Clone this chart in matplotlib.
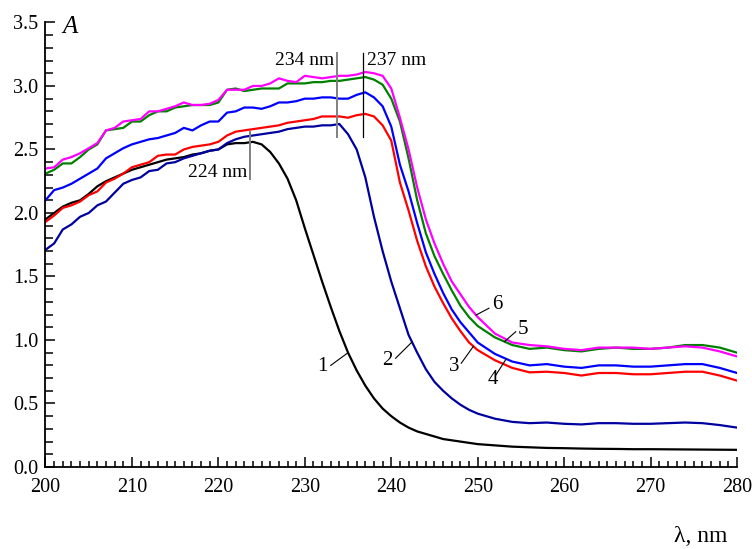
import numpy as np
import matplotlib
matplotlib.use("Agg")
import matplotlib.pyplot as plt
from matplotlib.ticker import MultipleLocator

plt.rcParams["font.family"] = ["Liberation Serif", "DejaVu Serif"]

# wavelength grid, nm
wl = list(range(200, 251)) + list(range(252, 281, 2))

# absorbance spectra 1..6
a1 = [1.95, 2.00, 2.05, 2.08, 2.10, 2.15, 2.21, 2.25, 2.28, 2.31,
      2.34, 2.36, 2.38, 2.40, 2.42, 2.43, 2.44, 2.46, 2.47, 2.49,
      2.50, 2.54, 2.55, 2.55, 2.56, 2.54, 2.48, 2.39, 2.27, 2.10,
      1.88, 1.67, 1.46, 1.26, 1.07, 0.90, 0.76, 0.64, 0.54, 0.46,
      0.40, 0.35, 0.31, 0.28, 0.26, 0.24, 0.22, 0.21, 0.20, 0.19,
      0.18,
      0.17, 0.16, 0.155, 0.15, 0.148, 0.145, 0.143, 0.142, 0.14, 0.14,
      0.139, 0.138, 0.137, 0.136, 0.135]
a2 = [1.71, 1.76, 1.87, 1.91, 1.97, 2.00, 2.06, 2.09, 2.16, 2.23,
      2.26, 2.28, 2.33, 2.34, 2.39, 2.40, 2.43, 2.45, 2.47, 2.49,
      2.50, 2.55, 2.58, 2.60, 2.61, 2.62, 2.63, 2.64, 2.66, 2.67,
      2.68, 2.68, 2.69, 2.69, 2.70, 2.62, 2.50, 2.28, 1.97, 1.70,
      1.46, 1.25, 1.04, 0.90, 0.77, 0.67, 0.60, 0.54, 0.49, 0.45,
      0.42,
      0.38, 0.355, 0.345, 0.35, 0.34, 0.335, 0.345, 0.345, 0.34, 0.34,
      0.345, 0.35, 0.345, 0.33, 0.31]
a3 = [1.93, 1.98, 2.04, 2.06, 2.09, 2.14, 2.17, 2.24, 2.27, 2.31,
      2.36, 2.38, 2.40, 2.45, 2.46, 2.46, 2.50, 2.52, 2.53, 2.54,
      2.56, 2.61, 2.64, 2.65, 2.66, 2.67, 2.68, 2.69, 2.71, 2.72,
      2.73, 2.74, 2.76, 2.76, 2.76, 2.75, 2.77, 2.78, 2.76, 2.69,
      2.57, 2.24, 2.02, 1.78, 1.58, 1.42, 1.29, 1.17, 1.07, 0.98,
      0.92,
      0.84, 0.78, 0.745, 0.75, 0.74, 0.72, 0.74, 0.74, 0.73, 0.73,
      0.74, 0.75, 0.75, 0.72, 0.68]
a4 = [2.10, 2.18, 2.20, 2.23, 2.27, 2.31, 2.35, 2.43, 2.47, 2.51,
      2.54, 2.56, 2.58, 2.59, 2.61, 2.63, 2.67, 2.65, 2.69, 2.72,
      2.72, 2.79, 2.80, 2.83, 2.83, 2.82, 2.84, 2.87, 2.87, 2.88,
      2.90, 2.90, 2.91, 2.91, 2.90, 2.90, 2.93, 2.95, 2.91, 2.84,
      2.68, 2.38, 2.17, 1.92, 1.69, 1.52, 1.37, 1.24, 1.14, 1.06,
      0.98,
      0.89, 0.83, 0.80, 0.81, 0.79, 0.78, 0.80, 0.80, 0.79, 0.79,
      0.80, 0.81, 0.81, 0.78, 0.74]
a5 = [2.31, 2.34, 2.39, 2.39, 2.44, 2.50, 2.54, 2.65, 2.66, 2.67,
      2.72, 2.72, 2.77, 2.80, 2.80, 2.83, 2.84, 2.85, 2.85, 2.85,
      2.87, 2.97, 2.98, 2.96, 2.97, 2.98, 2.98, 2.98, 3.02, 3.02,
      3.02, 3.03, 3.03, 3.04, 3.04, 3.05, 3.06, 3.07, 3.05, 3.01,
      2.90, 2.72, 2.43, 2.10, 1.84, 1.66, 1.52, 1.39, 1.27, 1.18,
      1.11,
      1.02, 0.96, 0.93, 0.94, 0.92, 0.91, 0.93, 0.94, 0.93, 0.93,
      0.94, 0.96, 0.96, 0.94, 0.90]
a6 = [2.35, 2.36, 2.42, 2.44, 2.47, 2.51, 2.55, 2.65, 2.67, 2.72,
      2.73, 2.74, 2.80, 2.80, 2.82, 2.84, 2.87, 2.85, 2.85, 2.86,
      2.89, 2.97, 2.97, 2.97, 3.00, 3.00, 3.02, 3.06, 3.04, 3.03,
      3.08, 3.07, 3.06, 3.07, 3.08, 3.08, 3.09, 3.11, 3.10, 3.08,
      2.98, 2.75, 2.50, 2.20, 1.95, 1.76, 1.60, 1.46, 1.36, 1.26,
      1.18,
      1.05, 0.98, 0.96, 0.95, 0.93, 0.92, 0.94, 0.94, 0.94, 0.93,
      0.94, 0.95, 0.94, 0.91, 0.87]

spectra = [a1, a2, a3, a4, a5, a6]
colors = ["black", "#0000a0", "red", "blue", "green", "magenta"]

# curve number labels: text position, leader start, x where the leader meets the curve
num_text = [(232.0, 0.79), (239.5, 0.84), (247.3, 0.79),
            (251.7, 0.69), (255.2, 1.085), (252.3, 1.28)]
num_start = [(233.0, 0.80), (240.5, 0.856), (248.1, 0.817),
             (252.1, 0.724), (254.4, 1.065), (251.3, 1.25)]
num_end_x = [235.0, 242.4, 249.5, 253.3, 253.1, 249.8]

# peak markers
mark_x = [223.7, 233.7, 236.7]
mark_text = ["224 nm", "234 nm", "237 nm"]

fig = plt.figure(figsize=(7.52, 5.49), dpi=100)
ax = fig.add_axes([0.0605, 0.1494, 0.9196, 0.8097])

for i in range(6):
    ax.plot(wl, spectra[i], color=colors[i], lw=1.6, solid_joinstyle="round")

# vertical marker lines and their labels
ax.plot([mark_x[0]] * 2, [2.27, 2.64], color="gray", lw=1.4)
ax.plot([mark_x[1]] * 2, [2.60, 3.26], color="gray", lw=1.4)
ax.plot([mark_x[2]] * 2, [2.60, 3.26], color="black", lw=0.9)
ax.text(mark_x[0] - 0.4, 2.32, mark_text[0], ha="right", va="center", fontsize=14)
ax.text(mark_x[1] - 0.25, 3.20, mark_text[1], ha="right", va="center", fontsize=14)
ax.text(mark_x[2] + 0.45, 3.20, mark_text[2], ha="left", va="center", fontsize=14)

for k in range(6):
    xe = num_end_x[k]
    ye = np.interp(xe, wl, spectra[k])
    ax.plot([num_start[k][0], xe], [num_start[k][1], ye], color="black", lw=0.8)
    ax.text(num_text[k][0], num_text[k][1], str(k + 1), ha="center", va="center", fontsize=15)

ax.set_xlim(200, 280)
ax.set_ylim(0, 3.5)
ax.xaxis.set_major_locator(MultipleLocator(10))
ax.xaxis.set_minor_locator(MultipleLocator(1))
ax.yaxis.set_major_locator(MultipleLocator(0.5))
ax.yaxis.set_minor_locator(MultipleLocator(0.1))
ax.yaxis.set_major_formatter(plt.FormatStrFormatter("%.1f"))

ax.spines["top"].set_visible(False)
ax.spines["right"].set_visible(False)
for s in ["left", "bottom"]:
    ax.spines[s].set_linewidth(1.3)

ax.tick_params(axis="both", which="both", direction="in", width=1.1, labelsize=14.5)
ax.tick_params(axis="x", which="major", length=7, pad=8)
ax.tick_params(axis="x", which="minor", length=4)
ax.tick_params(axis="y", which="major", length=7, pad=5)
ax.tick_params(axis="y", which="minor", length=6)

fig.text(62 / 752, 1 - 27 / 549, "A", fontsize=18, fontstyle="italic", ha="left", va="center")
fig.text(701 / 752, 1 - 536 / 549, "λ, nm", fontsize=17, ha="center", va="center")

fig.savefig("out.png", dpi=100)
